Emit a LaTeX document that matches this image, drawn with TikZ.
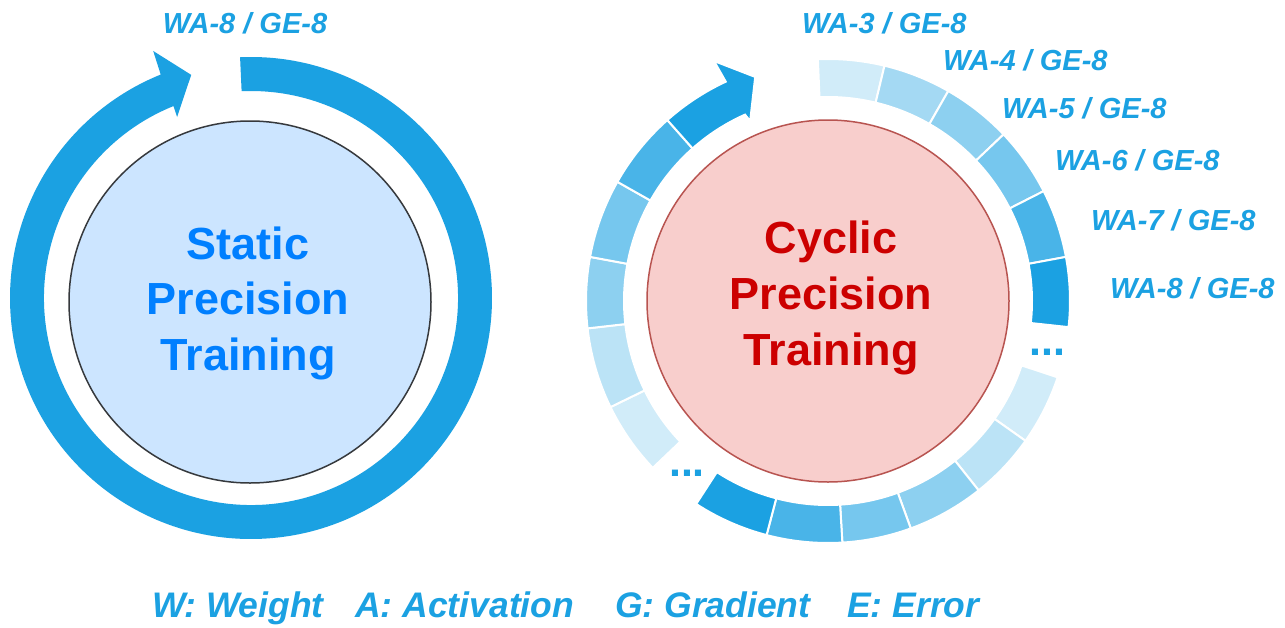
\documentclass[tikz,border=0pt]{standalone}
\usepackage{fontspec}
\setmainfont{Liberation Sans}
\definecolor{ringblue}{HTML}{1BA1E2}
\definecolor{lfill}{HTML}{CCE5FF}
\definecolor{lline}{HTML}{36393D}
\definecolor{ltext}{HTML}{007FFF}
\definecolor{rfill}{HTML}{F8CECC}
\definecolor{rline}{HTML}{B85450}
\definecolor{rtext}{HTML}{CC0000}
\tikzset{
  lbl/.style={anchor=base west, inner sep=0pt, text=ringblue, font=\fontsize{29}{29}\selectfont\bfseries\itshape},
  legendtxt/.style={anchor=base west, inner sep=0pt, text=ringblue, font=\fontsize{35.5}{35.5}\selectfont\bfseries\itshape},
  ltitle/.style={anchor=base, inner sep=0pt, text=ltext, font=\fontsize{45}{45}\selectfont\bfseries},
  rtitle/.style={anchor=base, inner sep=0pt, text=rtext, font=\fontsize{45}{45}\selectfont\bfseries},
  dotstxt/.style={anchor=center, inner sep=0pt, text=ringblue, font=\fontsize{43}{43}\selectfont\bfseries},
  segpiece/.style={fill=ringblue!#1, draw=white, line width=2pt},
}
\newcommand\ringseg[3]{%
  \path[segpiece=#1] (#2:204) arc[start angle=#2, end angle=#3, radius=204]
    -- (#3:242) arc[start angle=#3, end angle=#2, radius=242] -- cycle;}
\begin{document}
\begin{tikzpicture}[x=1pt,y=1pt]
\useasboundingbox (0,0) rectangle (1285,-627);
\fill[white] (0,0) rectangle (1285,-627);

% ---------- left: static ----------
\begin{scope}[shift={(251,-298)}]
  \fill[ringblue] (92.6:241) arc[start angle=92.6, end angle=-248, radius=241]
    -- (111.6:265.7) -- (105:231) -- (112.2:195.5) -- (-248:207)
    arc[start angle=-248, end angle=92.6, radius=207] -- cycle;
\end{scope}
\node[circle, minimum size=362pt, inner sep=0pt, fill=lfill, draw=lline, line width=1.5pt] (lcirc) at (250,-302) {};
\node[ltitle] (lt1) at (248,-259) {Static};
\node[ltitle] (lt2) at (248,-314.5) {Precision};
\node[ltitle] (lt3) at (248,-370) {Training};
\node[lbl, anchor=base] (lwa) at (245,-33) {WA-8 / GE-8};

% ---------- right: cyclic ----------
\begin{scope}[shift={(828,-301)}]
  % top group
  \ringseg{20}{92.4}{76.5}
  \ringseg{40}{76.5}{60.2}
  \ringseg{50}{60.2}{43.5}
  \ringseg{60}{43.5}{27}
  \ringseg{80}{27}{10.5}
  \ringseg{100}{10.5}{-6.2}
  % bottom-right group
  \ringseg{20}{-18.4}{-35.3}
  \ringseg{30}{-35.3}{-51.5}
  \ringseg{50}{-51.5}{-70}
  \ringseg{60}{-70}{-86.6}
  \ringseg{80}{-86.6}{-104.7}
  \ringseg{100}{-104.7}{-123}
  % left group
  \ringseg{20}{223.6}{206}
  \ringseg{30}{206}{186.5}
  \ringseg{50}{186.5}{169.5}
  \ringseg{60}{169.5}{150.5}
  \ringseg{80}{150.5}{131.6}
  \path[fill=ringblue, draw=white, line width=2pt]
    (131.6:242) arc[start angle=131.6, end angle=115, radius=242]
    -- (115.4:265.7) -- (108:235.6) -- (113.4:196) -- (114:204)
    arc[start angle=114, end angle=131.6, radius=204] -- cycle;
\end{scope}
\node[circle, minimum size=362pt, inner sep=0pt, fill=rfill, draw=rline, line width=1.5pt] (rcirc) at (828,-301) {};
\node[rtitle] (rt1) at (831,-253) {Cyclic};
\node[rtitle] (rt2) at (831,-309) {Precision};
\node[rtitle] (rt3) at (831,-365) {Training};

\node[lbl] (w3) at (802,-33) {WA-3 / GE-8};
\node[lbl] (w4) at (943,-70) {WA-4 / GE-8};
\node[lbl] (w5) at (1002,-118) {WA-5 / GE-8};
\node[lbl] (w6) at (1055,-170) {WA-6 / GE-8};
\node[lbl] (w7) at (1091,-230) {WA-7 / GE-8};
\node[lbl] (w8) at (1110,-298) {WA-8 / GE-8};

\node[dotstxt] (d1) at (1047,-352) {...};
\node[dotstxt] (d2) at (687,-473) {...};

% ---------- legend ----------
\node[legendtxt] (lg1) at (152,-617) {W: Weight};
\node[legendtxt] (lg2) at (355,-617) {A: Activation};
\node[legendtxt] (lg3) at (615,-617) {G: Gradient};
\node[legendtxt] (lg4) at (847,-617) {E: Error};
\end{tikzpicture}
\end{document}
